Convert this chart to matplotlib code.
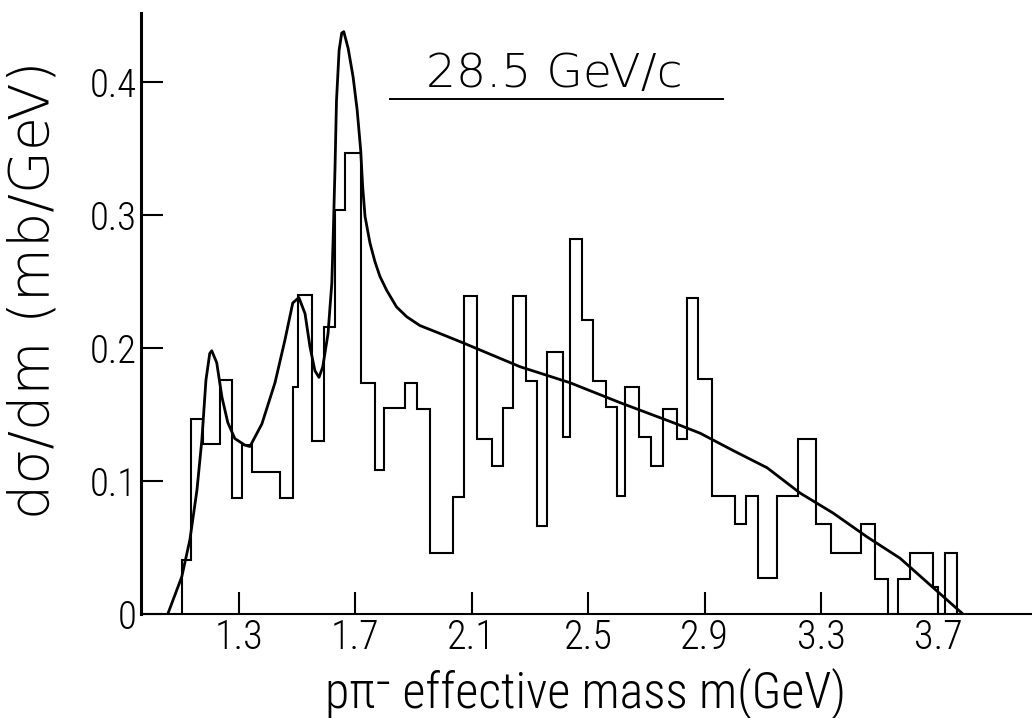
import matplotlib
matplotlib.use("Agg")
import matplotlib.pyplot as plt
from matplotlib import font_manager as fm

# ---------------- data ----------------
# histogram bin edges (GeV) and heights d(sigma)/dm (mb/GeV)
bin_edges = [1.105, 1.136, 1.177, 1.236, 1.277, 1.311, 1.346, 1.442, 1.486, 1.504,
             1.552, 1.593, 1.631, 1.665, 1.720, 1.768, 1.799, 1.871, 1.912, 1.957,
             2.036, 2.073, 2.118, 2.170, 2.207, 2.242, 2.286, 2.324, 2.358, 2.413,
             2.437, 2.479, 2.516, 2.561, 2.599, 2.626, 2.674, 2.715, 2.757, 2.805,
             2.839, 2.877, 2.925, 3.004, 3.042, 3.083, 3.148, 3.220, 3.282, 3.333,
             3.436, 3.484, 3.529, 3.563, 3.605, 3.683, 3.701, 3.725, 3.766]
bin_values = [0.041, 0.147, 0.128, 0.176, 0.087, 0.127, 0.107, 0.087, 0.171, 0.240,
              0.130, 0.216, 0.304, 0.347, 0.174, 0.108, 0.155, 0.174, 0.154, 0.046,
              0.088, 0.239, 0.132, 0.111, 0.155, 0.239, 0.175, 0.066, 0.197, 0.133,
              0.282, 0.221, 0.175, 0.156, 0.089, 0.171, 0.133, 0.111, 0.154, 0.132,
              0.238, 0.177, 0.089, 0.068, 0.089, 0.027, 0.089, 0.132, 0.068, 0.046,
              0.068, 0.026, 0.000, 0.026, 0.046, 0.020, 0.000, 0.046]

# fitted curve
curve_m = [1.057, 1.105, 1.133, 1.157, 1.174, 1.188, 1.201, 1.208, 1.225, 1.243,
           1.263, 1.287, 1.322, 1.339, 1.380, 1.425, 1.459, 1.486, 1.507, 1.528,
           1.545, 1.562, 1.576, 1.589, 1.607, 1.620, 1.625, 1.631, 1.636, 1.645,
           1.654, 1.661, 1.676, 1.693, 1.707, 1.719, 1.726, 1.734, 1.751, 1.768,
           1.785, 1.808, 1.842, 1.877, 1.922, 1.991, 2.070, 2.266, 2.437, 2.609,
           2.791, 2.884, 2.997, 3.114, 3.227, 3.340, 3.457, 3.570, 3.683, 3.786]
curve_v = [0.000, 0.028, 0.056, 0.093, 0.131, 0.176, 0.196, 0.198, 0.189, 0.163,
           0.144, 0.132, 0.127, 0.126, 0.143, 0.174, 0.206, 0.234, 0.238, 0.226,
           0.201, 0.183, 0.178, 0.186, 0.211, 0.249, 0.286, 0.336, 0.386, 0.424,
           0.437, 0.438, 0.4255, 0.404, 0.379, 0.349, 0.321, 0.299, 0.279, 0.265,
           0.254, 0.2436, 0.231, 0.2236, 0.217, 0.211, 0.204, 0.186, 0.174, 0.159,
           0.144, 0.136, 0.123, 0.110, 0.091, 0.076, 0.058, 0.042, 0.020, 0.000]

x_ticks = [1.3, 1.7, 2.1, 2.5, 2.9, 3.3, 3.7]
x_tick_labels = ["1.3", "1.7", "2.1", "2.5", "2.9", "3.3", "3.7"]
y_ticks = [0.0, 0.1, 0.2, 0.3, 0.4]
y_tick_labels = ["0", "0.1", "0.2", "0.3", "0.4"]

title_text = "28.5 GeV/c"
x_label = "p\u03c0\u207b effective mass m(GeV)"
y_label = "d\u03c3/dm (mb/GeV)"


# ---------------- fonts ----------------
def pick(names):
    for n in names:
        try:
            fm.findfont(fm.FontProperties(family=n), fallback_to_default=False)
            return n
        except Exception:
            pass
    return "DejaVu Sans"


narrow = pick(["Liberation Sans Narrow", "DejaVu Sans Condensed",
               "Roboto Condensed", "Liberation Sans"])
narrow_fam = [narrow, "DejaVu Sans"]

# ---------------- figure ----------------
fig = plt.figure(figsize=(10.32, 7.18), dpi=100)
ax = fig.add_axes([0.1366, 0.1448, 0.8634, 0.837])

ax.stairs(bin_values, bin_edges, color="black", linewidth=1.5, baseline=0)
ax.plot(curve_m, curve_v, color="black", linewidth=2.0,
        solid_joinstyle="round", solid_capstyle="round")

ax.set_xlim(0.965, 4.023)
ax.set_ylim(0, 0.452)

for s in ("top", "right"):
    ax.spines[s].set_visible(False)
ax.spines["left"].set_linewidth(2.2)
ax.spines["bottom"].set_linewidth(1.5)

ax.set_xticks(x_ticks)
ax.set_xticklabels(x_tick_labels, family=narrow_fam, fontsize=29,
                   fontweight="light")
ax.set_yticks(y_ticks)
ax.set_yticklabels(y_tick_labels, family=narrow_fam, fontsize=28,
                   fontweight="light")
ax.tick_params(axis="both", direction="in", length=16, width=1.5, pad=3)

fig.text(0.567, 0.035, x_label, ha="center", va="center",
         family=narrow_fam, fontsize=36, fontweight="light")
fig.text(0.033, 0.596, y_label, ha="center", va="center", rotation=90,
         family=["DejaVu Sans"], fontsize=40, fontweight="light")

ax.text(0.4635, 0.877, title_text, transform=ax.transAxes, ha="center",
        va="baseline", family=["DejaVu Sans"], fontsize=34, fontweight="light")
ax.plot([0.2795, 0.653], [0.857, 0.857], transform=ax.transAxes,
        color="black", linewidth=1.4, clip_on=False)

fig.savefig("out.png", dpi=100, facecolor="white")
